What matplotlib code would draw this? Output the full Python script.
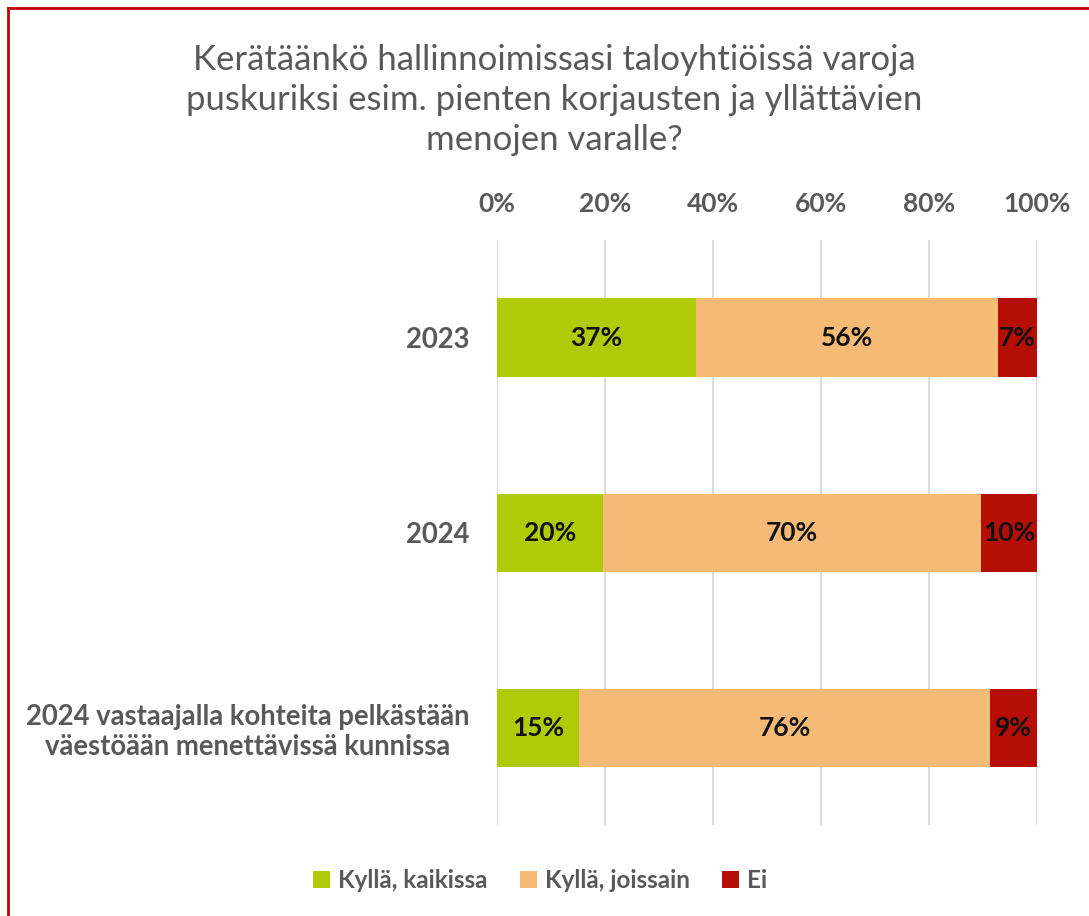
import numpy as np
import matplotlib
matplotlib.use("Agg")
import matplotlib.pyplot as plt
from matplotlib.lines import Line2D
from matplotlib.patches import Patch

# Data
categories = ["2023", "2024", "2024 vastaajalla kohteita pelkästään\nväestöään menettävissä kunnissa"]
series = ["Kyllä, kaikissa", "Kyllä, joissain", "Ei"]
kaikissa = [36.9, 19.6, 15.2]
joissain = [55.9, 70.0, 76.1]
ei = [7.2, 10.4, 8.7]
colors = ["#AFCB07", "#F5BA75", "#B50E05"]
ticks = [0, 20, 40, 60, 80, 100]

plt.rcParams['font.family'] = ['Lato', 'DejaVu Sans']
gray = "#595959"

fig = plt.figure(figsize=(10.89, 9.16), dpi=100)
ax = fig.add_axes([0.4564, 0.0993, 0.4959, 0.6387])

y = np.arange(len(categories))
left = np.zeros(len(categories))
for vals, col, name in zip([kaikissa, joissain, ei], colors, series):
    vals = np.array(vals)
    ax.barh(y, vals, left=left, height=0.4, color=col, label=name, zorder=3)
    for yi, l, v in zip(y, left, vals):
        ax.text(l + v / 2, yi, f"{v:.0f}%", ha='center', va='center',
                fontsize=19, fontweight='bold', color='#111111', zorder=4)
    left = left + vals

ax.set_xlim(0, 100)
ax.set_ylim(2.5, -0.5)
ax.set_xticks(ticks)
ax.set_xticklabels([f"{t}%" for t in ticks])
ax.xaxis.tick_top()
ax.tick_params(axis='x', length=0, pad=17, labelsize=19, labelcolor=gray)
ax.tick_params(axis='y', length=0, pad=20, labelsize=19.8, labelcolor=gray)
for lab in ax.get_xticklabels():
    lab.set_fontweight('bold')
ax.set_yticks(y)
ax.set_yticklabels(categories, fontweight='bold', ha='right')
for lab in ax.get_yticklabels():
    lab.set_multialignment('center')
    lab.set_linespacing(1.2)
ax.grid(axis='x', color='#D9D9D9', linewidth=1.3, zorder=0)
for s in ax.spines.values():
    s.set_visible(False)

fig.text(0.509, 0.891,
         "Kerätäänkö hallinnoimissasi taloyhtiöissä varoja\n"
         "puskuriksi esim. pienten korjausten ja yllättävien\n"
         "menojen varalle?",
         ha='center', va='center', fontsize=25, color=gray, linespacing=1.3)

handles = [Patch(facecolor=c, edgecolor='none') for c in colors]
leg = fig.legend(handles, series, loc='center', bbox_to_anchor=(0.496, 0.039),
                 ncol=3, frameon=False, handlelength=0.7, handleheight=0.7,
                 handletextpad=0.35, columnspacing=1.3,
                 prop={'size': 17.5, 'weight': 'bold'})
for t in leg.get_texts():
    t.set_color(gray)

# red frame (left and top edges visible)
fig.add_artist(Line2D([0.0072, 1.0], [0.9913, 0.9913], transform=fig.transFigure,
                      color='#C00000', linewidth=2))
fig.add_artist(Line2D([0.0072, 0.0072], [0.0, 0.9913], transform=fig.transFigure,
                      color='#C00000', linewidth=2))

fig.savefig("out.png", dpi=100)
